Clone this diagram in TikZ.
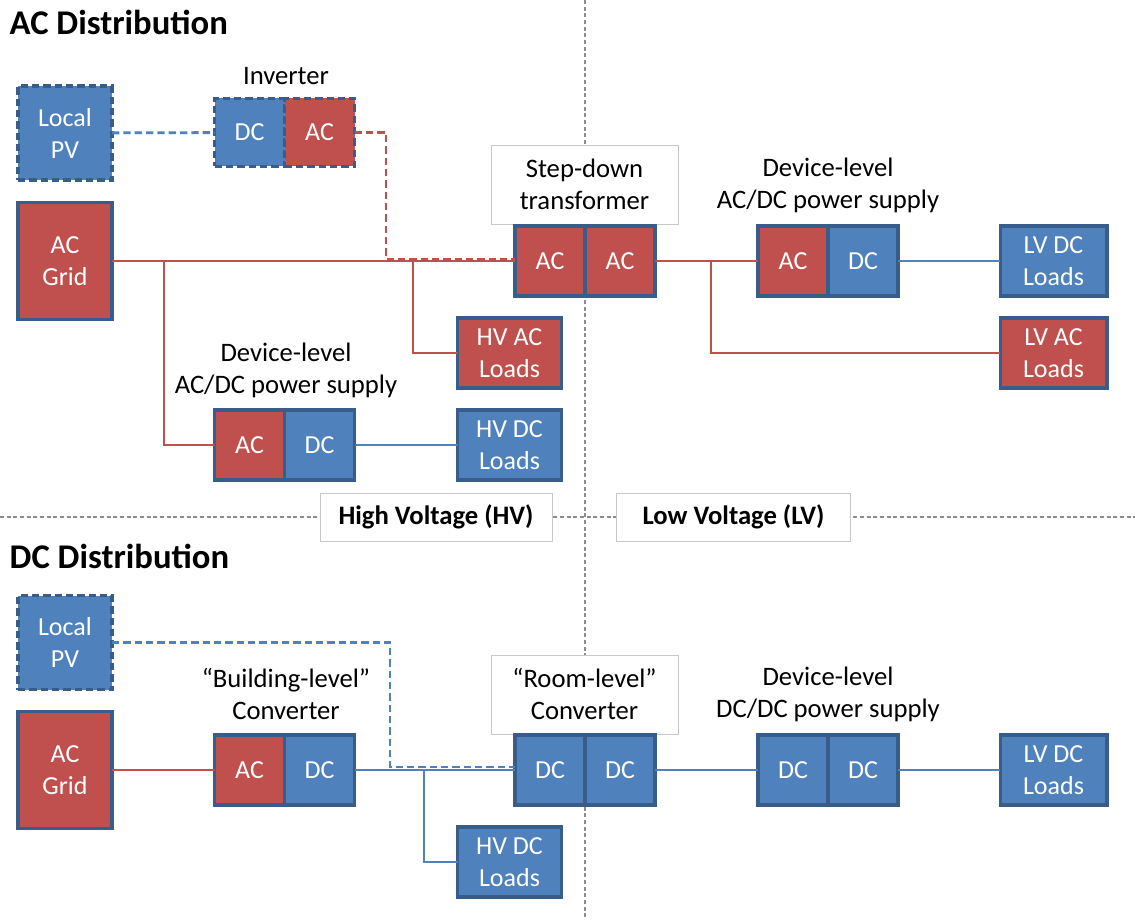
\documentclass[tikz,border=0pt]{standalone}
\usepackage{fontspec}
\setmainfont{Carlito}
\usetikzlibrary{positioning}
\definecolor{acred}{HTML}{C0504D}
\definecolor{dcblue}{HTML}{4F81BD}
\definecolor{edgeblue}{HTML}{385D8A}
\definecolor{midgray}{HTML}{8C8C8C}
\definecolor{lightgray}{HTML}{C8C8C8}

\begin{document}
\begin{tikzpicture}[
  x=0.75pt,y=-0.75pt,
  unitbox/.style={draw=edgeblue,line width=2.5pt,text=white,outer sep=0pt,inner sep=0pt,align=center,font=\fontsize{19.5}{24}\selectfont},
  acbox/.style={unitbox,fill=acred},
  dcbox/.style={unitbox,fill=dcblue},
  half/.style={minimum width=52.5pt,minimum height=52.5pt},
  srcbox/.style={minimum width=70.5pt},
  loadbox/.style={minimum height=52.5pt,minimum width=78pt},
  optional/.style={dash pattern=on 5.5pt off 3pt},
  caption/.style={align=center,font=\fontsize{20}{24}\selectfont},
  tagbox/.style={draw=lightgray,fill=white,line width=0.6pt},
  heading/.style={anchor=west,font=\bfseries\fontsize{26}{30}\selectfont},
  acline/.style={draw=acred,line width=2.1pt},
  dcline/.style={draw=dcblue,line width=2.1pt},
  divline/.style={draw=midgray,line width=1pt,dash pattern=on 3pt off 2pt}
]
\useasboundingbox (0,0) rectangle (1135,920);

% dividers
\draw[divline] (585,0) -- (585,920);
\draw[divline] (0,517) -- (1135,517);
\node[tagbox,minimum width=174pt,minimum height=36pt,font=\bfseries\fontsize{20}{24}\selectfont] (hv) at (436,517) {High Voltage (HV)};
\node[tagbox,minimum width=176pt,minimum height=36pt,font=\bfseries\fontsize{20}{24}\selectfont] (lv) at (733.5,517) {Low Voltage (LV)};

% ---------- AC distribution ----------
\node[heading] (actitle) at (5,22) {AC Distribution};

\node[dcbox,srcbox,minimum height=70.5pt,optional] (pv1) at (65,133) {Local\\PV};
\node[acbox,srcbox,minimum height=87.75pt] (grid1) at (65,261) {AC\\Grid};

\node[dcbox,half,minimum height=51pt,optional] (invdc) at (249.5,132.5) {DC};
\node[acbox,half,minimum height=51pt,optional,right=0pt of invdc] (invac) {AC};
\node[caption] (invcap) at (286,76) {Inverter};

\draw[tagbox] (491,145) rectangle (678,224);
\node[caption] (tfcap) at (584.5,184.5) {Step-down\\transformer};
\node[acbox,half] (tfin) at (550,261) {AC};
\node[acbox,half,right=0pt of tfin] (tfout) {AC};

\node[caption] (lvpscap) at (828,185) {Device-level\\AC/DC power supply};
\node[acbox,half] (lvpsac) at (793,261) {AC};
\node[dcbox,half,right=0pt of lvpsac] (lvpsdc) {DC};

\node[dcbox,loadbox,minimum width=80pt] (lvdc1) at (1053.5,261) {LV DC\\Loads};
\node[acbox,loadbox,minimum width=80pt] (lvac) at (1053.5,353) {LV AC\\Loads};
\node[acbox,loadbox] (hvac) at (509.5,353) {HV AC\\Loads};
\node[dcbox,loadbox] (hvdc1) at (509.5,445) {HV DC\\Loads};

\node[caption] (hvpscap) at (286,370) {Device-level\\AC/DC power supply};
\node[acbox,half] (hvpsac) at (249.5,445) {AC};
\node[dcbox,half,right=0pt of hvpsac] (hvpsdc) {DC};

\coordinate (pvdrop1) at (386,259);
\draw[dcline,optional] (pv1) -- (invdc);
\draw[acline,optional] (invac.east) -| (pvdrop1) -- (tfin.west |- pvdrop1);
\draw[acline] (grid1) -- (tfin);
\draw[acline] (tfout) -- (lvpsac);
\draw[dcline] (lvpsdc) -- (lvdc1);
\draw[acline] (711,261) |- (lvac);
\draw[acline] (413,261) |- (hvac);
\draw[acline] (164,261) |- (hvpsac);
\draw[dcline] (hvpsdc) -- (hvdc1);

% ---------- DC distribution ----------
\node[heading] (dctitle) at (5,556) {DC Distribution};

\node[dcbox,srcbox,minimum height=70.5pt,optional] (pv2) at (65,642.5) {Local\\PV};
\node[acbox,srcbox,minimum height=87.75pt] (grid2) at (65,770) {AC\\Grid};

\node[caption] (bldcap) at (286,694) {“Building-level”\\Converter};
\node[acbox,half] (bldac) at (249.5,770) {AC};
\node[dcbox,half,right=0pt of bldac] (blddc) {DC};

\draw[tagbox] (491,655) rectangle (678,734);
\node[caption] (roomcap) at (584.5,694) {“Room-level”\\Converter};
\node[dcbox,half] (roomin) at (550,770) {DC};
\node[dcbox,half,right=0pt of roomin] (roomout) {DC};

\node[caption] (dcpscap) at (828,694) {Device-level\\DC/DC power supply};
\node[dcbox,half] (dcpsin) at (793,770) {DC};
\node[dcbox,half,right=0pt of dcpsin] (dcpsout) {DC};

\node[dcbox,loadbox,minimum width=80pt] (lvdc2) at (1053.5,770) {LV DC\\Loads};
\node[dcbox,loadbox] (hvdc2) at (509.5,862) {HV DC\\Loads};

\coordinate (pvdrop2) at (390,767);
\draw[acline] (grid2) -- (bldac);
\draw[dcline] (blddc) -- (roomin);
\draw[dcline,optional,line width=1.6pt] (pv2.east) -| (pvdrop2) -- (roomin.west |- pvdrop2);
\draw[dcline] (424,770) |- (hvdc2);
\draw[dcline] (roomout) -- (dcpsin);
\draw[dcline] (dcpsout) -- (lvdc2);
\end{tikzpicture}
\end{document}
